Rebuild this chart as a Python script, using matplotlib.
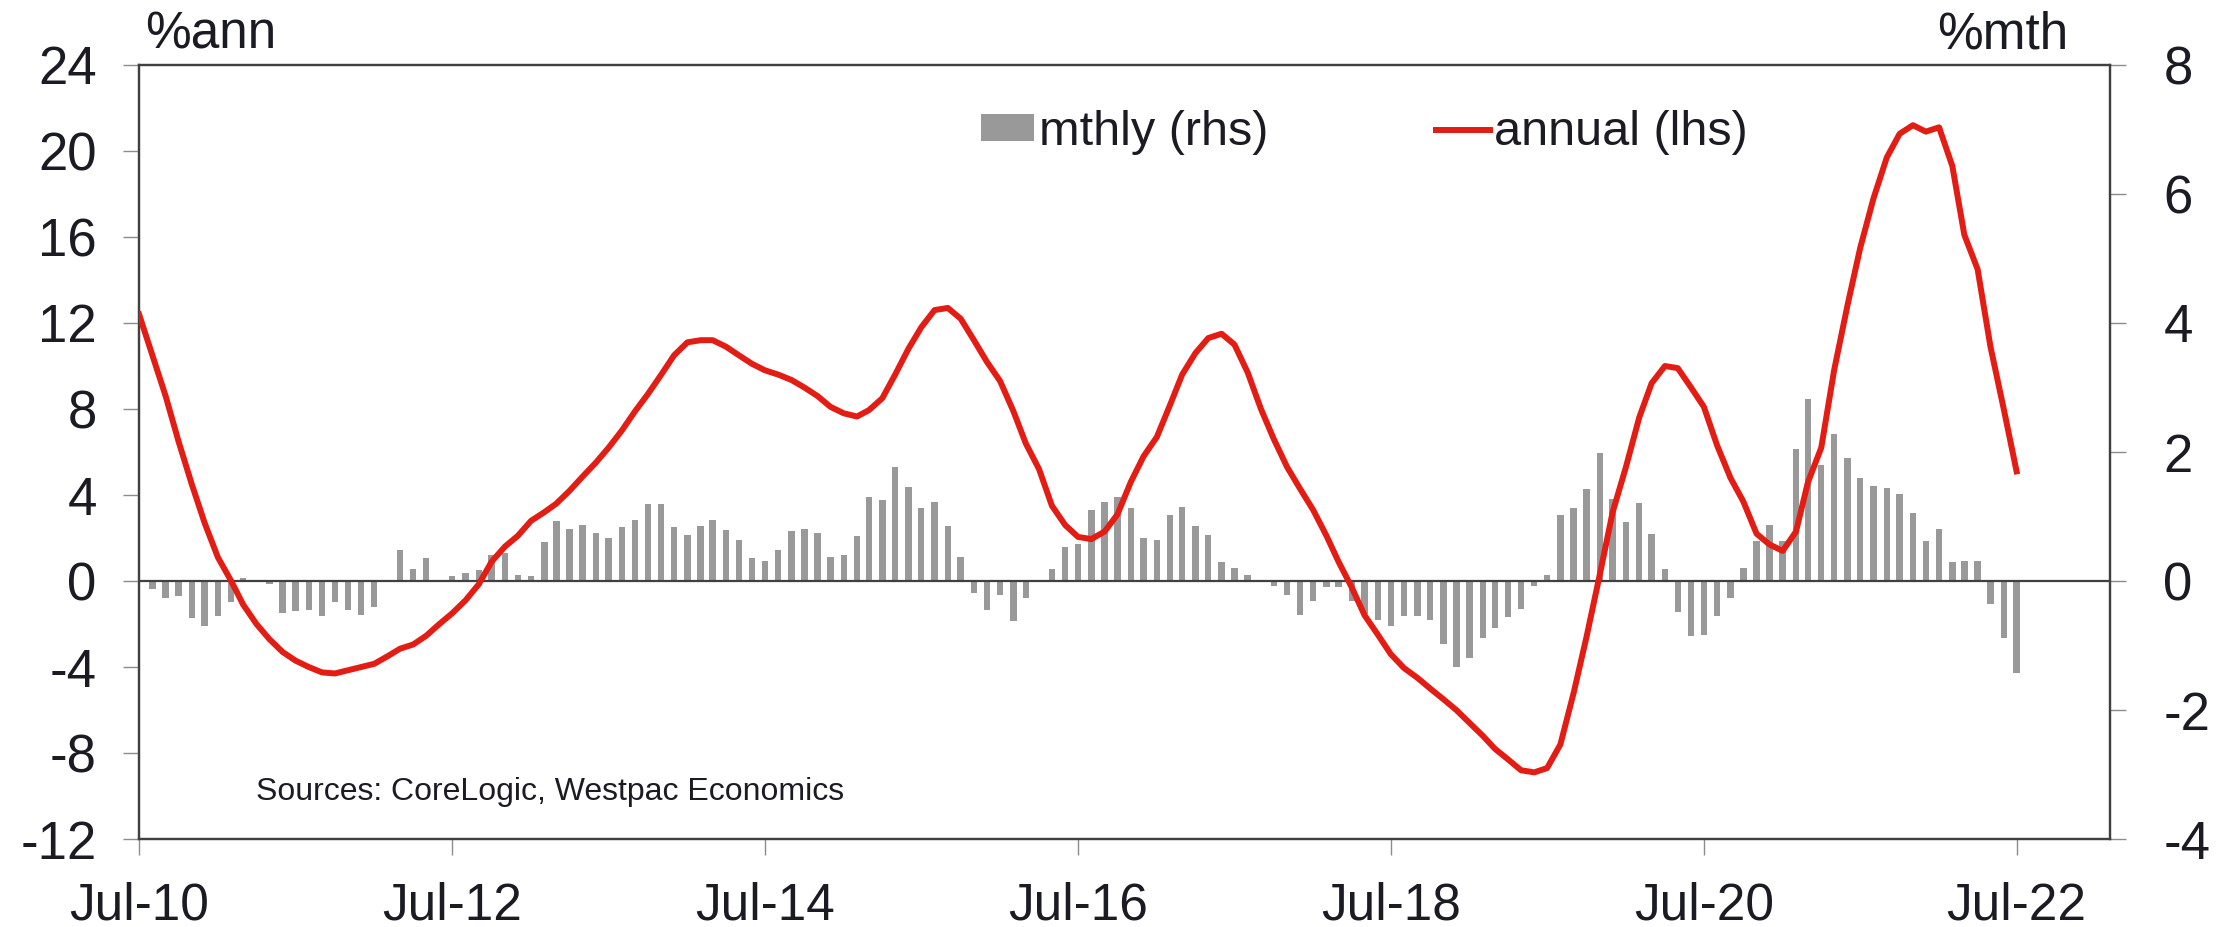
import matplotlib.pyplot as plt
import matplotlib.dates as mdates
import pandas as pd

plt.rcParams['font.family'] = ['Liberation Sans', 'DejaVu Sans']
plt.rcParams['axes.unicode_minus'] = False

# monthly dates, Jul-10 .. Jul-22
months = pd.date_range('2010-07-01', '2022-07-01', freq='MS')

# annual % change (lhs), one value per month from Jul-10
annual = [
    12.4, 10.5, 8.6, 6.5, 4.5, 2.7, 1.1, 0.0, -1.1, -2.0, -2.7, -3.3,
    -3.7, -4.0, -4.25, -4.3, -4.15, -4.0, -3.85, -3.5, -3.15, -2.95, -2.55, -2.0,
    -1.5, -0.9, -0.15, 0.9, 1.6, 2.1, 2.8, 3.2, 3.6, 4.2, 4.85, 5.5,
    6.2, 7.0, 7.9, 8.7, 9.6, 10.5, 11.1, 11.2, 11.2, 10.9, 10.5, 10.1,
    9.8, 9.6, 9.35, 9.0, 8.6, 8.1, 7.8, 7.65, 7.95, 8.5, 9.6, 10.8,
    11.8, 12.6, 12.7, 12.2, 11.2, 10.2, 9.3, 7.9, 6.4, 5.2, 3.5, 2.6,
    2.05, 1.95, 2.3, 3.1, 4.6, 5.8, 6.7, 8.2, 9.6, 10.6, 11.3, 11.5,
    11.0, 9.7, 8.0, 6.6, 5.3, 4.3, 3.3, 2.1, 0.9, -0.3, -1.6, -2.5,
    -3.4, -4.05, -4.5, -5.0, -5.5, -6.0, -6.6, -7.2, -7.8, -8.3, -8.8, -8.9,
    -8.7, -7.6, -5.2, -2.6, 0.3, 3.2, 5.3, 7.6, 9.2, 10.0, 9.9, 9.0,
    8.1, 6.3, 4.8, 3.7, 2.2, 1.7, 1.4, 2.3, 4.6, 6.2, 9.8, 12.8,
    15.5, 17.8, 19.7, 20.8, 21.2, 20.9, 21.1, 19.3, 16.1, 14.5, 10.9, 8.0,
    5.1,
]

# monthly % change (rhs), from Aug-10
mthly = [
    -0.12, -0.27, -0.23, -0.57, -0.70, -0.54, -0.32, 0.05, 0.0, -0.04, -0.50, -0.46,
    -0.45, -0.55, -0.32, -0.45, -0.53, -0.40, 0.01, 0.48, 0.19, 0.36, 0.01, 0.07,
    0.12, 0.17, 0.41, 0.44, 0.10, 0.07, 0.61, 0.93, 0.81, 0.87, 0.75, 0.67,
    0.83, 0.95, 1.19, 1.20, 0.83, 0.71, 0.85, 0.94, 0.79, 0.63, 0.36, 0.31,
    0.48, 0.78, 0.80, 0.74, 0.38, 0.40, 0.70, 1.30, 1.26, 1.76, 1.45, 1.13,
    1.22, 0.85, 0.37, -0.18, -0.45, -0.22, -0.62, -0.26, 0.0, 0.19, 0.52, 0.58,
    1.10, 1.22, 1.30, 1.13, 0.66, 0.63, 1.02, 1.15, 0.86, 0.72, 0.30, 0.20,
    0.10, 0.01, -0.07, -0.21, -0.53, -0.31, -0.10, -0.10, -0.31, -0.51, -0.60, -0.70,
    -0.54, -0.55, -0.61, -0.97, -1.34, -1.20, -0.89, -0.73, -0.56, -0.44, -0.08, 0.09,
    1.02, 1.13, 1.43, 1.99, 1.27, 0.91, 1.21, 0.73, 0.19, -0.48, -0.85, -0.83,
    -0.54, -0.27, 0.20, 0.62, 0.87, 0.62, 2.04, 2.82, 1.80, 2.28, 1.91, 1.59,
    1.47, 1.44, 1.35, 1.06, 0.62, 0.81, 0.29, 0.31, 0.31, -0.36, -0.88, -1.43,
]
bar_months = months[1:]

left_ticks = list(range(-12, 25, 4))
right_ticks = list(range(-4, 9, 2))
x_ticks = pd.to_datetime(['2010-07-01', '2012-07-01', '2014-07-01', '2016-07-01',
                          '2018-07-01', '2020-07-01', '2022-07-01'])

RED = '#e31c14'
GREY = '#999999'
TEXT = '#1b1b24'
AXIS = '#404040'
TICK = '#8c8c8c'

fig = plt.figure(figsize=(22.29, 9.27), dpi=100)
ax = fig.add_axes([0.0624, 0.0949, 0.8842, 0.835])
ax2 = ax.twinx()
# line axis sits above the bar axis
ax.set_zorder(ax2.get_zorder() + 1)
ax.patch.set_visible(False)

bars = ax2.bar(bar_months, mthly, width=15, color=GREY, label='mthly (rhs)')
ax.axhline(0, color=AXIS, lw=1.6, zorder=1)
line, = ax.plot(months, annual, color=RED, lw=4.3, label='annual (lhs)', zorder=3)

ax.set_ylim(-12, 24)
ax2.set_ylim(-4, 8)
ax.set_yticks(left_ticks)
ax2.set_yticks(right_ticks)
ax.set_xlim(pd.Timestamp('2010-07-01'), pd.Timestamp('2023-02-04'))
ax.set_xticks(x_ticks)
ax.xaxis.set_major_formatter(mdates.DateFormatter('%b-%y'))

for a in (ax, ax2):
    for s in a.spines.values():
        s.set_color(AXIS)
        s.set_linewidth(1.6)

ax.tick_params(axis='y', direction='out', length=11.5, width=1, color=TICK,
               pad=19, labelsize=38, labelcolor=TEXT)
ax2.tick_params(axis='y', direction='out', length=11.5, width=1, color=TICK,
                pad=27, labelsize=38, labelcolor=TEXT)
ax.tick_params(axis='x', direction='out', length=11.5, width=1, color=TICK,
               pad=19, labelsize=37, labelcolor=TEXT)

ax.annotate('%ann', xy=(0, 1), xycoords='axes fraction', xytext=(4, 12),
            textcoords='offset points', ha='left', va='baseline',
            fontsize=37, color=TEXT)
ax.annotate('%mth', xy=(1, 1), xycoords='axes fraction', xytext=(-30, 12),
            textcoords='offset points', ha='right', va='baseline',
            fontsize=37, color=TEXT)

ax.text(0.0594, 0.0607, 'Sources: CoreLogic, Westpac Economics',
        transform=ax.transAxes, ha='left', va='center', fontsize=23, color=TEXT)

ax.legend([bars, line], ['mthly (rhs)', 'annual (lhs)'], loc='center left',
          bbox_to_anchor=(0.427, 0.913), ncol=2, frameon=False, fontsize=35,
          handlelength=1.1, handleheight=0.45, handletextpad=0.1,
          columnspacing=3.45, borderpad=0, borderaxespad=0, labelcolor=TEXT)

fig.savefig('out.png', dpi=100)
